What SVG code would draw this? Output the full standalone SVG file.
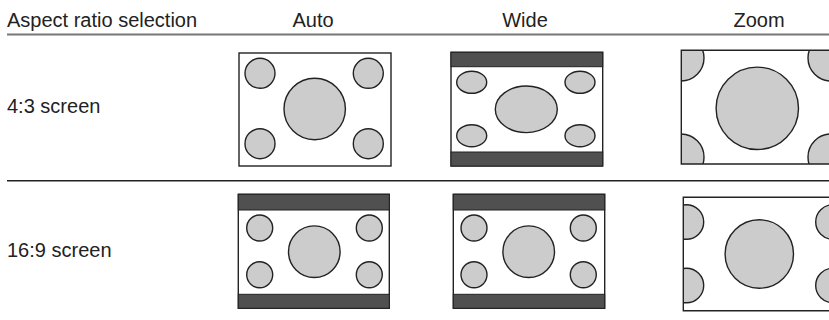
<svg xmlns="http://www.w3.org/2000/svg" width="829" height="320" viewBox="0 0 829 320">
<style>
text{font-family:"Liberation Sans",Arial,sans-serif;font-size:20px;fill:#222}
.frame{fill:#fff;stroke:#222;stroke-width:1.4}
.bar{fill:#505050;stroke:#222;stroke-width:1}
.c{fill:#ccc;stroke:#222;stroke-width:1.4}
.edge{fill:none;stroke:#222;stroke-width:1.4}
</style>
<defs>
<clipPath id="cz1"><rect x="681.3" y="50.3" width="160" height="113.7"/></clipPath>
<clipPath id="cz2"><rect x="683.3" y="197.3" width="160" height="113.4"/></clipPath>
</defs>
<g id="header">
<text x="7" y="27">Aspect ratio selection</text>
<text x="313" y="27" text-anchor="middle">Auto</text>
<text x="525" y="27" text-anchor="middle">Wide</text>
<text x="759" y="27" text-anchor="middle">Zoom</text>
</g>
<g id="lines">
<line x1="7" y1="34.5" x2="829" y2="34.5" stroke="#777" stroke-width="2"/>
<line x1="7" y1="180.7" x2="829" y2="180.7" stroke="#222" stroke-width="1.4"/>
</g>
<g id="row1-label"><text x="7" y="113">4:3 screen</text></g>
<g id="row2-label"><text x="7" y="257">16:9 screen</text></g>

<g id="r1-auto">
<rect class="frame" x="239" y="53" width="152" height="113"/>
<circle class="c" cx="260" cy="73.3" r="15"/>
<circle class="c" cx="368.3" cy="73.3" r="15"/>
<circle class="c" cx="260" cy="143.7" r="15"/>
<circle class="c" cx="368.3" cy="143.7" r="15"/>
<circle class="c" cx="314.7" cy="109" r="30.7"/>
</g>

<g id="r1-wide">
<rect class="frame" x="451" y="52.3" width="151.7" height="113.7"/>
<rect class="bar" x="451" y="52.3" width="151.7" height="14.4"/>
<rect class="bar" x="451" y="152" width="151.7" height="14"/>
<ellipse class="c" cx="471.7" cy="82.3" rx="15" ry="11"/>
<ellipse class="c" cx="580" cy="82.3" rx="15" ry="11"/>
<ellipse class="c" cx="471.7" cy="135.7" rx="15" ry="11"/>
<ellipse class="c" cx="580" cy="135.7" rx="15" ry="11"/>
<ellipse class="c" cx="526.3" cy="109.3" rx="31" ry="23.3"/>
</g>

<g id="r1-zoom">
<rect x="681.3" y="50.3" width="160" height="113.7" fill="#fff"/>
<g clip-path="url(#cz1)">
<circle class="c" cx="681" cy="58" r="23"/>
<circle class="c" cx="681" cy="157" r="23"/>
<circle class="c" cx="831" cy="58" r="23"/>
<circle class="c" cx="831" cy="157" r="23"/>
</g>
<circle class="c" cx="757.3" cy="108.3" r="41.2"/>
<path class="edge" d="M841 50.3 H681.3 V164 H841"/>
</g>

<g id="r2-auto">
<rect class="frame" x="238.3" y="194.3" width="151" height="114"/>
<rect class="bar" x="238.3" y="194.3" width="151" height="15.7"/>
<rect class="bar" x="238.3" y="294.3" width="151" height="14"/>
<circle class="c" cx="259.7" cy="228" r="13"/>
<circle class="c" cx="369.3" cy="228" r="13"/>
<circle class="c" cx="259.7" cy="274.7" r="13"/>
<circle class="c" cx="369.3" cy="274.7" r="13"/>
<circle class="c" cx="314.3" cy="251.7" r="25.8"/>
</g>

<g id="r2-wide">
<rect class="frame" x="453.3" y="194.3" width="151.4" height="114"/>
<rect class="bar" x="453.3" y="194.3" width="151.4" height="15.7"/>
<rect class="bar" x="453.3" y="294.3" width="151.4" height="14"/>
<circle class="c" cx="474" cy="228" r="13"/>
<circle class="c" cx="583.3" cy="228" r="13"/>
<circle class="c" cx="474" cy="274.7" r="13"/>
<circle class="c" cx="583.3" cy="274.7" r="13"/>
<circle class="c" cx="528.7" cy="251.7" r="25.8"/>
</g>

<g id="r2-zoom">
<rect x="683.3" y="197.3" width="160" height="113.4" fill="#fff"/>
<g clip-path="url(#cz2)">
<circle class="c" cx="686.4" cy="222" r="17.3"/>
<circle class="c" cx="686.4" cy="285.5" r="17.3"/>
<circle class="c" cx="833" cy="222" r="17.3"/>
<circle class="c" cx="833" cy="285.5" r="17.3"/>
</g>
<circle class="c" cx="759.3" cy="254" r="34.2"/>
<path class="edge" d="M843 197.3 H683.3 V310.7 H843"/>
</g>
</svg>
